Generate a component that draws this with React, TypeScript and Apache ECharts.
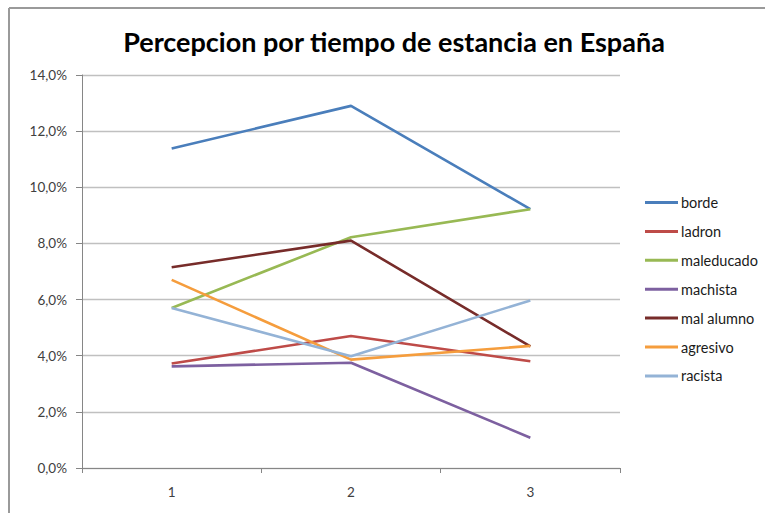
import React, { useEffect, useRef } from "react";
import * as echarts from "echarts";

const categories = ["1", "2", "3"];
const seriesNames = ["borde", "ladron", "maleducado", "machista", "mal alumno", "agresivo", "racista"];
const borde = [11.38, 12.9, 9.22];
const ladron = [3.72, 4.7, 3.8];
const maleducado = [5.7, 8.22, 9.22];
const machista = [3.62, 3.75, 1.08];
const malAlumno = [7.15, 8.1, 4.33];
const agresivo = [6.7, 3.86, 4.35];
const racista = [5.7, 3.98, 5.97];
const seriesValues = [borde, ladron, maleducado, machista, malAlumno, agresivo, racista];
const seriesColors = ["#4a7ebb", "#be4b48", "#98b954", "#7d60a0", "#772c2a", "#f59d3d", "#94b3d6"];
const title = "Percepcion por tiempo de estancia en España";

export default function App() {
  const ref = useRef<HTMLDivElement>(null);
  useEffect(() => {
    document.body.style.margin = "0";
    const chart = echarts.init(ref.current!, null, { renderer: "svg" });
    const font = "Lato, 'Open Sans', sans-serif";
    chart.setOption({
      animation: false,
      backgroundColor: "#ffffff",
      title: {
        text: title,
        left: 389,
        top: 23,
        textAlign: "center",
        textStyle: { fontFamily: font, fontSize: 27, fontWeight: "bold", color: "#000000" },
      },
      grid: { left: 82, right: 145, top: 75, bottom: 45 },
      legend: {
        orient: "vertical",
        left: 640,
        top: 190,
        icon: "rect",
        itemWidth: 33,
        itemHeight: 3,
        itemGap: 13.9,
        data: seriesNames,
        textStyle: { fontFamily: font, fontSize: 14.5, color: "#1a1a1a", padding: [0, 0, 0, -2] },
      },
      xAxis: {
        type: "category",
        data: categories,
        boundaryGap: true,
        axisLine: { lineStyle: { color: "#868686", width: 1 } },
        axisTick: { show: true, length: 5, lineStyle: { color: "#868686" } },
        axisLabel: { fontFamily: font, fontSize: 13.5, color: "#404040", margin: 17 },
        splitLine: { show: false },
      },
      yAxis: {
        type: "value",
        min: 0,
        max: 14,
        interval: 2,
        axisLine: { show: true, lineStyle: { color: "#868686", width: 1 } },
        axisTick: { show: true, length: 6, lineStyle: { color: "#868686" } },
        axisLabel: {
          fontFamily: font,
          fontSize: 13.5,
          color: "#404040",
          margin: 15,
          formatter: (v: number) => v.toFixed(1).replace(".", ",") + "%",
        },
        splitLine: { lineStyle: { color: "#c0c0c0", width: 1.3 } },
      },
      graphic: [
        { type: "line", shape: { x1: 9, y1: 8, x2: 765, y2: 8 }, style: { stroke: "#9a9a9a", lineWidth: 2 } },
        { type: "line", shape: { x1: 9, y1: 8, x2: 9, y2: 513 }, style: { stroke: "#9a9a9a", lineWidth: 2 } },
      ],
      series: seriesNames.map((name, i) => ({
        name,
        type: "line",
        data: seriesValues[i],
        symbol: "none",
        color: seriesColors[i],
        lineStyle: { width: 2.6, color: seriesColors[i] },
      })),
    });
    return () => chart.dispose();
  }, []);
  return <div ref={ref} style={{ width: 765, height: 513 }} />;
}
